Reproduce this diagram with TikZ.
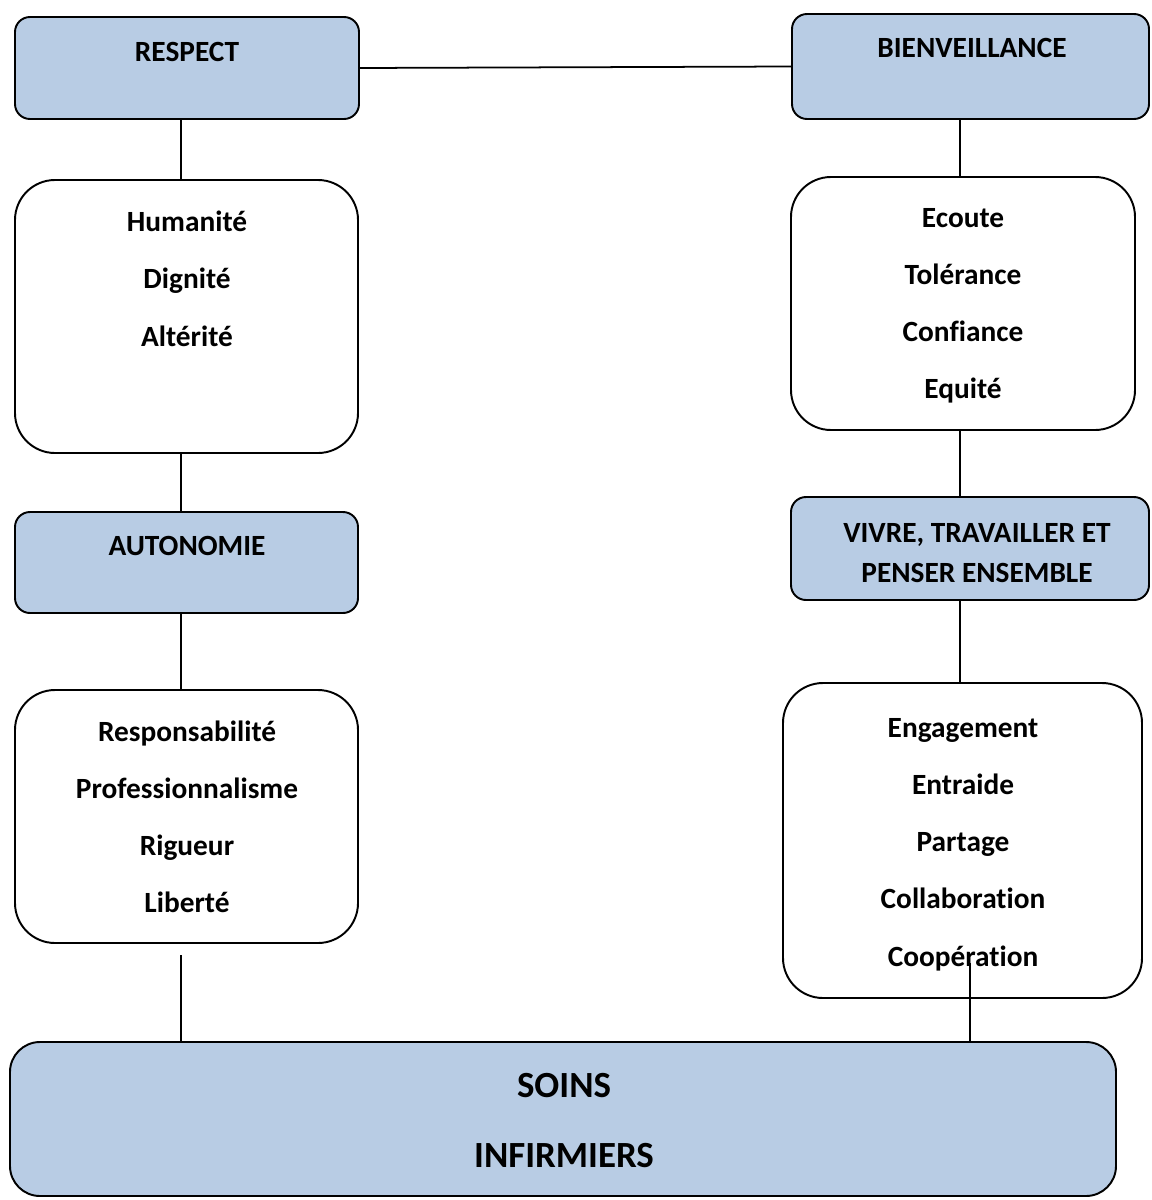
\documentclass[tikz,border=0pt]{standalone}
\usepackage{fontspec}
\setmainfont[Ligatures=NoCommon]{Carlito}
\usetikzlibrary{fit}
\definecolor{boxblue}{HTML}{B8CCE4}
\tikzset{
  headbox/.style={draw, line width=1.1pt, fill=boxblue, rounded corners=0.3cm, inner sep=0pt},
  listbox/.style={draw, line width=1.1pt, fill=white, rounded corners=0.8cm, inner sep=0pt},
  word/.style={font=\fontsize{16.7}{20}\selectfont\bfseries, anchor=base, inner sep=0pt},
  bigword/.style={font=\fontsize{21}{25}\selectfont\bfseries, anchor=base, inner sep=0pt},
  link/.style={line width=1pt}
}

\begin{document}
\begin{tikzpicture}[x=0.02cm, y=-0.02cm]
    \useasboundingbox (0,0) rectangle (1152,1200);
    % left column
    \node[headbox, fit={(15,17) (359,119)}] (respect) {};
    \node[listbox, fit={(15,180) (358,453)}] (humbox) {};
    \node[headbox, fit={(15,512) (358,613)}] (autonomie) {};
    \node[listbox, fit={(15,690) (358,943)}] (respbox) {};
    % right column
    \node[headbox, fit={(792,14) (1149,119)}] (bienv) {};
    \node[listbox, fit={(791,177) (1135,430)}] (ecoutebox) {};
    \node[headbox, fit={(791,497) (1149,600)}] (vivre) {};
    \node[listbox, fit={(783,683) (1142,998)}] (engbox) {};
    % bottom
    \node[headbox, rounded corners=0.6cm, fit={(10,1042) (1116,1196)}] (soins) {};

    \node[word] (respecttxt) at (187,61) {RESPECT};
    \node[word] (autotxt) at (187,555) {AUTONOMIE};
    \node[word] (bienvtxt) at (972,57) {BIENVEILLANCE};
    \node[word] (vivre1) at (977,542) {VIVRE, TRAVAILLER ET};
    \node[word] (vivre2) at (977,582) {PENSER ENSEMBLE};
    \node[bigword] (soins1) at (564,1097) {SOINS};
    \node[bigword] (soins2) at (564,1167) {INFIRMIERS};

    \foreach \w [count=\i] in {Humanité, Dignité, Altérité}
        \node[word] (hum\i) at (187,231+57.5*\i-57.5) {\w};
    \foreach \w [count=\i] in {Responsabilité, Professionnalisme, Rigueur, Liberté}
        \node[word] (resp\i) at (187,741+57.3*\i-57.3) {\w};
    \foreach \w [count=\i] in {Ecoute, Tolérance, Confiance, Equité}
        \node[word] (ecoute\i) at (963,227+57*\i-57) {\w};
    \foreach \w [count=\i] in {Engagement, Entraide, Partage, Collaboration, Coopération}
        \node[word] (eng\i) at (963,737+57.25*\i-57.25) {\w};

    % links
    \coordinate (leftline) at (181,0);
    \coordinate (rightline) at (960,0);
    \coordinate (leftfoot) at (181,955);
    \coordinate (rightfoot) at (970,963);
    \draw[link] (respect.east) -- (bienv.west);
    \draw[link] (respect.south -| leftline) -- (humbox.north -| leftline);
    \draw[link] (humbox.south -| leftline) -- (autonomie.north -| leftline);
    \draw[link] (autonomie.south -| leftline) -- (respbox.north -| leftline);
    \draw[link] (leftfoot) -- (leftfoot |- soins.north);
    \draw[link] (bienv.south -| rightline) -- (ecoutebox.north -| rightline);
    \draw[link] (ecoutebox.south -| rightline) -- (vivre.north -| rightline);
    \draw[link] (vivre.south -| rightline) -- (engbox.north -| rightline);
    \draw[link] (rightfoot) -- (rightfoot |- soins.north);
\end{tikzpicture}
\end{document}
